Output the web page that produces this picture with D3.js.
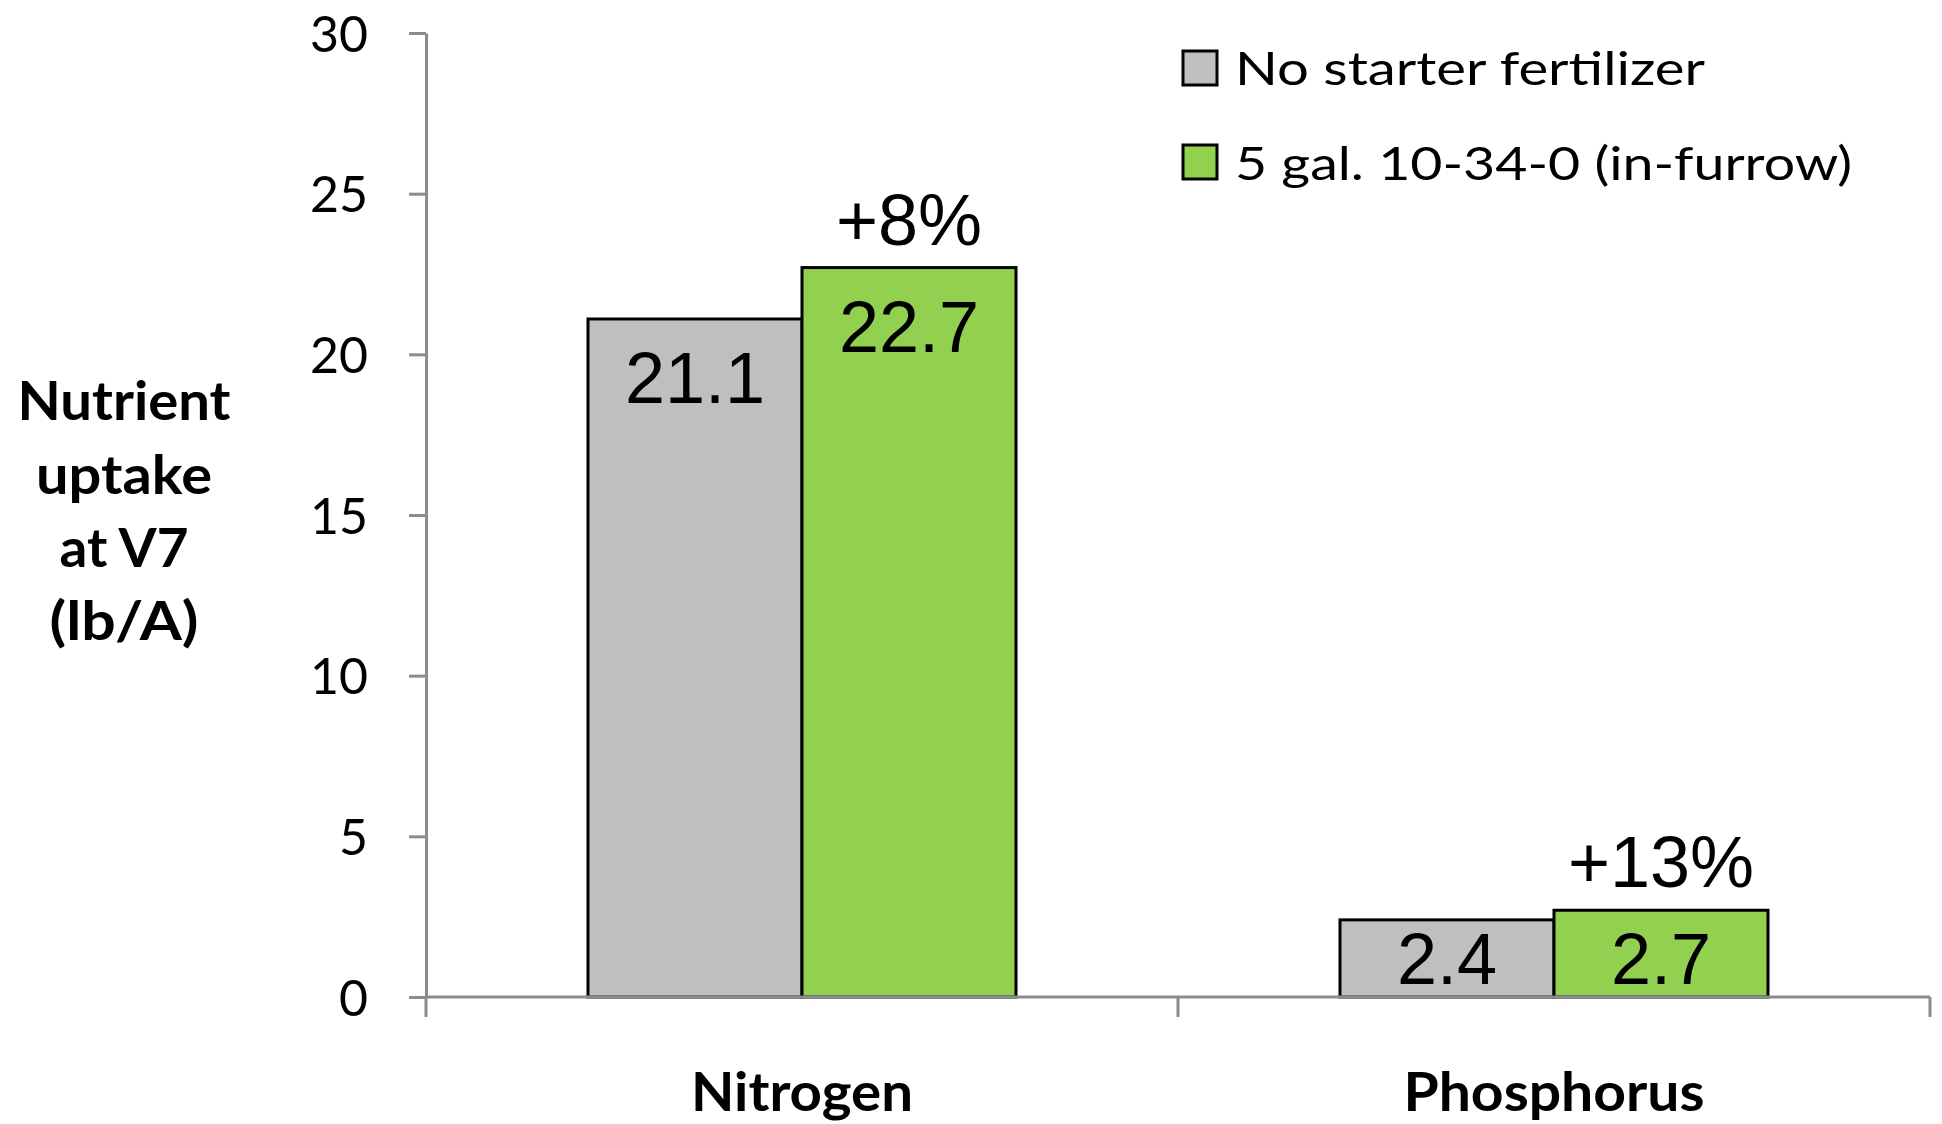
<!DOCTYPE html>
<html>
<head>
<meta charset="utf-8">
<script src="https://cdn.jsdelivr.net/npm/d3@7"></script>
<style>
  html, body { margin: 0; padding: 0; background: #ffffff; }
  svg { display: block; }
</style>
</head>
<body>
<svg id="chart" width="1942" height="1124"></svg>
<script>
// Nutrient uptake at V7, with and without in-furrow starter
const categories = ["Nitrogen", "Phosphorus"];
const seriesNames = ["No starter fertilizer", "5 gal. 10-34-0 (in-furrow)"];
const seriesColors = ["#bfbfbf", "#92d050"];
const noStarter = [21.1, 2.4];
const withStarter = [22.7, 2.7];
const increaseLabels = ["+8%", "+13%"];
const yTicks = [0, 5, 10, 15, 20, 25, 30];
const yTitleLines = ["Nutrient", "uptake", "at V7", "(lb/A)"];

const svg = d3.select("#chart");
const AXIS = "#8c8c8c";
const CAL = "Lato, 'Open Sans', sans-serif";
const ARIAL = "'Liberation Sans', Arial, sans-serif";

const plot = { left: 426, right: 1930, top: 33, bottom: 997 };

const y = d3.scaleLinear().domain([0, 30]).range([plot.bottom, plot.top]);
const x0 = d3.scaleBand().domain(categories).range([plot.left, plot.right]).padding(0);
const x1 = d3.scaleBand().domain(seriesNames).range([0, x0.bandwidth()])
  .paddingInner(0).paddingOuter(0.757);

const series = [noStarter, withStarter];
const bars = [];
categories.forEach((c, i) => {
  seriesNames.forEach((s, j) => {
    bars.push({ cat: c, ser: s, j, value: series[j][i], ci: i });
  });
});

// Y axis
const yAxis = d3.axisLeft(y).tickValues(yTicks).tickSize(17).tickSizeOuter(0).tickPadding(0);
const gy = svg.append("g").attr("transform", `translate(${plot.left},0)`).call(yAxis);
gy.select(".domain").attr("stroke", AXIS).attr("stroke-width", 3);
gy.selectAll(".tick line").attr("stroke", AXIS).attr("stroke-width", 3);
gy.selectAll(".tick text")
  .attr("x", -58)
  .attr("dy", "0.36em")
  .attr("fill", "#000")
  .style("font-family", CAL)
  .style("font-size", "50px");

// Bars
svg.append("g").selectAll("rect").data(bars).join("rect")
  .attr("x", d => x0(d.cat) + x1(d.ser))
  .attr("y", d => y(d.value))
  .attr("width", x1.bandwidth())
  .attr("height", d => y(0) - y(d.value))
  .attr("fill", d => seriesColors[d.j])
  .attr("stroke", "#000")
  .attr("stroke-width", 3);

// X axis baseline and category boundary ticks
const gx = svg.append("g");
gx.append("line")
  .attr("x1", plot.left).attr("x2", plot.right)
  .attr("y1", y(0)).attr("y2", y(0))
  .attr("stroke", AXIS).attr("stroke-width", 3);
const bounds = categories.map(c => x0(c)).concat([x0(categories[categories.length - 1]) + x0.bandwidth()]);
gx.selectAll("line.tick").data(bounds).join("line")
  .attr("class", "tick")
  .attr("x1", d => d).attr("x2", d => d)
  .attr("y1", y(0)).attr("y2", y(0) + 20)
  .attr("stroke", AXIS).attr("stroke-width", 3);

// Category labels
const catWidths = [222, 301];
svg.append("g").selectAll("text").data(categories).join("text")
  .attr("x", d => x0(d) + x0.bandwidth() / 2)
  .attr("y", 1111)
  .attr("text-anchor", "middle")
  .attr("textLength", (d, i) => catWidths[i])
  .attr("lengthAdjust", "spacingAndGlyphs")
  .style("font-family", CAL)
  .style("font-weight", "bold")
  .style("font-size", "53px")
  .text(d => d);

// Value labels inside the bars
svg.append("g").selectAll("text").data(bars).join("text")
  .attr("x", d => x0(d.cat) + x1(d.ser) + x1.bandwidth() / 2)
  .attr("y", d => Math.min(y(d.value) + 84, y(0) - 13))
  .attr("text-anchor", "middle")
  .style("font-family", ARIAL)
  .style("font-size", "72px")
  .text(d => d.value.toFixed(1));

// Percent increase above the starter bars
svg.append("g").selectAll("text").data(categories).join("text")
  .attr("x", d => x0(d) + x1(seriesNames[1]) + x1.bandwidth() / 2)
  .attr("y", (d, i) => y(withStarter[i]) - 23)
  .attr("text-anchor", "middle")
  .style("font-family", ARIAL)
  .style("font-size", "72px")
  .text((d, i) => increaseLabels[i]);

// Y axis title
const yTitleBaselines = [420, 494, 567, 640];
const yTitleWidths = [213, 176, 129, 149];
svg.append("g").selectAll("text").data(yTitleLines).join("text")
  .attr("x", 124)
  .attr("y", (d, i) => yTitleBaselines[i])
  .attr("text-anchor", "middle")
  .attr("textLength", (d, i) => yTitleWidths[i])
  .attr("lengthAdjust", "spacingAndGlyphs")
  .style("font-family", CAL)
  .style("font-weight", "bold")
  .style("font-size", "53px")
  .text(d => d);

// Legend
const legendRows = [
  { box: 51, base: 85, width: 470 },
  { box: 145, base: 180, width: 617 }
];
const lg = svg.append("g");
seriesNames.forEach((s, j) => {
  lg.append("rect")
    .attr("x", 1183).attr("y", legendRows[j].box)
    .attr("width", 34).attr("height", 34)
    .attr("fill", seriesColors[j])
    .attr("stroke", "#000").attr("stroke-width", 3);
  lg.append("text")
    .attr("x", 1235).attr("y", legendRows[j].base)
    .attr("textLength", legendRows[j].width)
    .attr("lengthAdjust", "spacingAndGlyphs")
    .style("font-family", CAL)
    .style("font-size", "46px")
    .text(s);
});
</script>
</body>
</html>
